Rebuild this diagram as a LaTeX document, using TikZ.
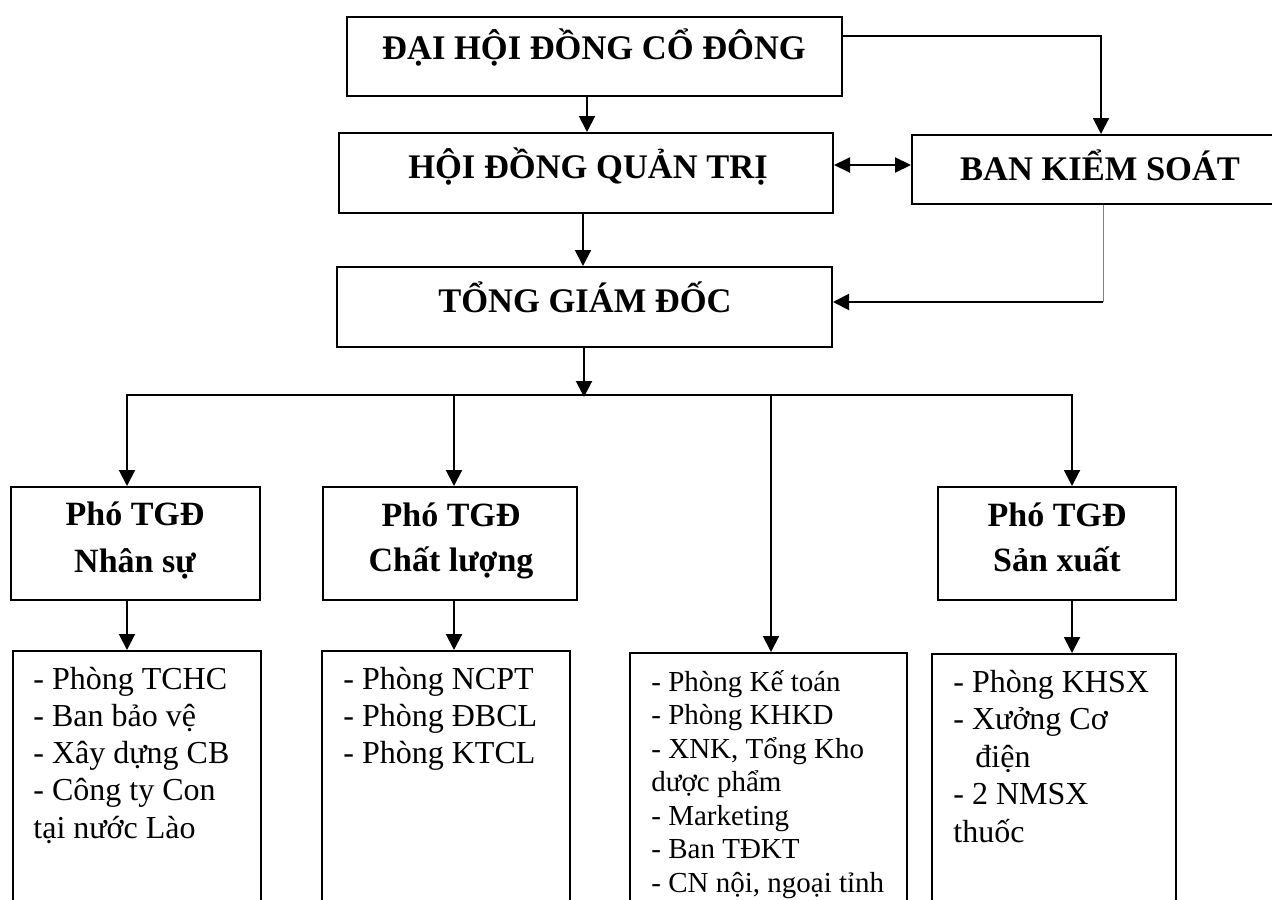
\documentclass[tikz,border=0pt]{standalone}
\usepackage{fontspec}
\setmainfont{Liberation Serif}
\usetikzlibrary{arrows.meta}
\begin{document}
\begin{tikzpicture}[x=0.5pt,y=-0.5pt,
  box/.style={draw, line width=1pt, rectangle, inner sep=0pt},
  hdr/.style={font=\bfseries\fontsize{17.25}{20}\selectfont, inner sep=0pt, anchor=base},
  pho/.style={font=\bfseries\fontsize{17}{20}\selectfont, inner sep=0pt, anchor=base},
  dtext/.style={font=\fontsize{16}{19}\selectfont, inner sep=0pt, anchor=base west},
  dtextsm/.style={font=\fontsize{14.5}{17}\selectfont, inner sep=0pt, anchor=base west},
  arr/.style={line width=1pt, -{Triangle[width=8pt,length=8pt]}},
  darr/.style={line width=1pt, {Triangle[width=7.5pt,length=8pt]}-{Triangle[width=7.5pt,length=8pt]}},
  ln/.style={line width=1pt, line cap=rect},
  thinln/.style={line width=0.5pt, draw=gray}
]
\path[use as bounding box, clip] (0,0) rectangle (1272,899);
\fill[white] (0,0) rectangle (1272,899);

% boxes
\node[box, minimum width=247.5pt, minimum height=39.5pt] (dh) at (594.5,56.5) {};
\node[box, minimum width=247pt, minimum height=40pt] (hd) at (586,173) {};
\node[box, minimum width=182pt, minimum height=34.5pt] (bks) at (1094,169.5) {};
\node[box, minimum width=247.5pt, minimum height=40pt] (tgd) at (584.5,307) {};
\node[box, minimum width=124.5pt, minimum height=56.5pt] (pns) at (135.5,543.5) {};
\node[box, minimum width=127pt, minimum height=56.5pt] (pcl) at (450,543.5) {};
\node[box, minimum width=119pt, minimum height=56.5pt] (psx) at (1057,543.5) {};
\node[box, minimum width=124pt, minimum height=129.5pt] (d1) at (137,780.5) {};
\node[box, minimum width=124pt, minimum height=129.5pt] (d2) at (446,780.5) {};
\node[box, minimum width=138.5pt, minimum height=128.5pt] (d3) at (768.5,781.5) {};
\node[box, minimum width=122pt, minimum height=128pt] (d4) at (1054,782) {};

% header texts
\node[hdr] (tdh) at (594,60) {ĐẠI HỘI ĐỒNG CỔ ĐÔNG};
\node[hdr] (thd) at (588,178) {HỘI ĐỒNG QUẢN TRỊ};
\node[hdr] (tbks) at (1100,180) {BAN KIỂM SOÁT};
\node[hdr] (ttgd) at (585,312) {TỔNG GIÁM ĐỐC};

\node[pho] (tpns1) at (135,525) {Phó TGĐ};
\node[pho] (tpns2) at (135,572) {Nhân sự};
\node[pho] (tpcl1) at (451,526) {Phó TGĐ};
\node[pho] (tpcl2) at (451,571) {Chất lượng};
\node[pho] (tpsx1) at (1057,526) {Phó TGĐ};
\node[pho] (tpsx2) at (1057,571) {Sản xuất};

% department lists
\foreach \t [count=\i from 0] in {- Phòng TCHC, - Ban bảo vệ, - Xây dựng CB, - Công ty Con, tại nước Lào}
  \node[dtext] (da\i) at (33, 689+37.3*\i) {\t};
\foreach \t [count=\i from 0] in {- Phòng NCPT, - Phòng ĐBCL, - Phòng KTCL}
  \node[dtext] (db\i) at (343, 689+37.3*\i) {\t};
\foreach \t [count=\i from 0] in {- Phòng Kế toán, - Phòng KHKD, {- XNK, Tổng Kho}, dược phẩm, - Marketing, - Ban TĐKT, {- CN nội, ngoại tỉnh}}
  \node[dtextsm] (dc\i) at (651, 691+33.5*\i) {\t};
\foreach \t [count=\i from 0] in {- Phòng KHSX, - Xưởng Cơ, \hspace*{11pt}điện, - 2 NMSX, thuốc}
  \node[dtext] (dd\i) at (953, 692+37.5*\i) {\t};

% connectors
\coordinate (ca) at (587,0);
\draw[arr] (dh.south -| ca) -- (hd.north -| ca);
\coordinate (cb) at (583,0);
\draw[arr] (hd.south -| cb) -- (tgd.north -| cb);
\coordinate (r1) at (1101,36);
\draw[arr] (dh.east |- r1) -- (r1) -- (bks.north -| r1);
\coordinate (r2) at (0,165);
\draw[darr] (hd.east |- r2) -- (bks.west |- r2);
\coordinate (g1) at (1103,302);
\draw[thinln] (bks.south -| g1) -- (g1);
\draw[arr] (g1) -- (tgd.east |- g1);

\coordinate (bl) at (127,395);
\coordinate (br) at (1072,395);
\coordinate (cc) at (584,397);
\coordinate (c2) at (454,395);
\coordinate (c3) at (771,395);
\draw[arr] (tgd.south -| cc) -- (cc);
\draw[ln] (bl) -- (br);
\draw[arr] (bl) -- (pns.north -| bl);
\draw[arr] (c2) -- (pcl.north -| c2);
\draw[arr] (c3) -- (d3.north -| c3);
\draw[arr] (br) -- (psx.north -| br);
\draw[arr] (pns.south -| bl) -- (d1.north -| bl);
\draw[arr] (pcl.south -| c2) -- (d2.north -| c2);
\draw[arr] (psx.south -| br) -- (d4.north -| br);
\end{tikzpicture}
\end{document}
